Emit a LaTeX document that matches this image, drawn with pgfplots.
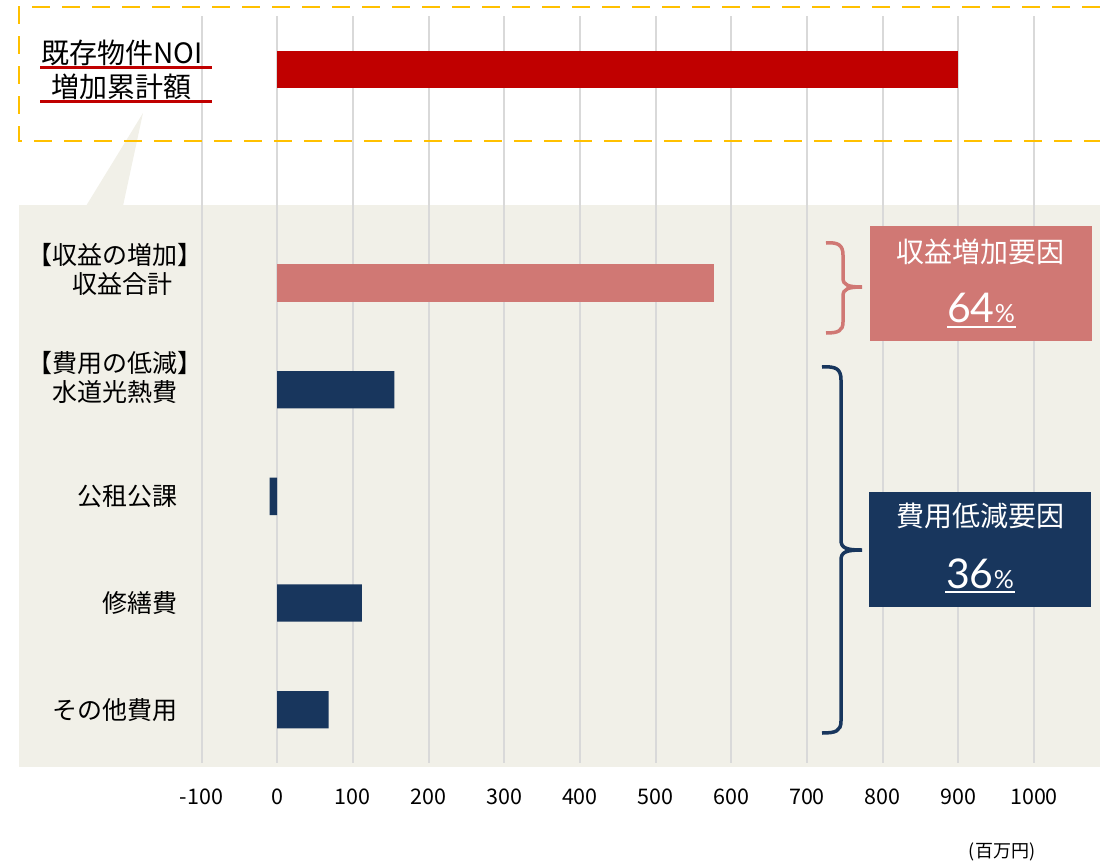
\documentclass[border=0pt]{standalone}
\usepackage{fontspec}
\setmainfont{Noto Sans CJK JP}
\newfontfamily\lato{Lato}
\usepackage{pgfplots}
\pgfplotsset{compat=1.18}
\definecolor{noi}{HTML}{C00000}
\definecolor{pinkc}{HTML}{D07874}
\definecolor{navy}{HTML}{18365D}
\definecolor{bg}{HTML}{F1F0E8}
\definecolor{yel}{HTML}{FFC000}
\definecolor{gridc}{HTML}{D9D9D9}
\begin{document}
\begin{tikzpicture}[x=1bp,y=-1bp]
\useasboundingbox (0,0) rectangle (1100,868);
\fill[bg] (19,205) rectangle (1100,767);
\fill[bg] (86,206) -- (143,113) -- (123,206) -- cycle;
\begin{axis}[at={(201.5bp,-763bp)}, anchor=south west, scale only axis,
  width=832.5bp, height=746.7bp,
  xmin=-100, xmax=1000, ymin=-0.5, ymax=6.5, y dir=reverse,
  axis line style={draw=none}, tick style={draw=none},
  xmajorgrids, grid style={draw=gridc, line width=2bp},
  xtick={-100,0,100,200,300,400,500,600,700,800,900,1000},
  xticklabels={-100,0,100,200,300,400,500,600,700,800,900,1000},
  xticklabel style={font=\fontsize{21.5bp}{25bp}\selectfont, anchor=center, yshift=-34bp},
  ytick={0,2,3,4,5,6},
  yticklabels={
    {\raisebox{-28bp}[0pt][0pt]{\fontsize{28bp}{33.6bp}\selectfont\begin{tabular}[b]{@{}c@{}}既存物件NOI\\増加累計額\end{tabular}}\kern-25bp},
    {\raisebox{-11bp}[0pt][0pt]{\fontsize{25bp}{30bp}\selectfont\begin{tabular}[b]{@{}c@{}}【収益の増加】\\[-1bp]\hspace{14bp}収益合計\end{tabular}}\kern-25bp},
    {\raisebox{-11.5bp}[0pt][0pt]{\fontsize{25bp}{30bp}\selectfont\begin{tabular}[b]{@{}c@{}}【費用の低減】\\[-1bp]水道光熱費\hspace{9bp}\end{tabular}}\kern-25bp},
    {{\fontsize{25bp}{30bp}\selectfont 公租公課}},
    {{\fontsize{25bp}{30bp}\selectfont 修繕費}},
    {{\fontsize{25bp}{30bp}\selectfont その他費用}}
  },
  yticklabel style={anchor=east, inner sep=0pt, xshift=-19.5bp},
  xbar, bar width=0.35]
\addplot[fill=noi, draw=none, bar shift=0pt] coordinates {(900,0)};
\addplot[fill=pinkc, draw=none, bar shift=0pt] coordinates {(577,2)};
\addplot[fill=navy, draw=none, bar shift=0pt] coordinates {(155,3) (-10,4) (112,5) (68,6)};
\end{axis}
\draw[yel, line width=2.8bp, dash pattern=on 18bp off 12bp] (1100,7) -- (19,7) -- (19,141) -- (1100,141);
\draw[noi, line width=3bp] (40,67) -- (212,67) (40,101) -- (212,101);
% right boxes
\fill[pinkc] (870,226) rectangle (1092,341);
\node[white, font=\fontsize{28bp}{32bp}\selectfont] at (980,252) {収益増加要因};
\node[white, font=\lato] at (981,308) {\fontsize{41bp}{45bp}\selectfont 64\fontsize{25bp}{28bp}\selectfont\%};
\draw[white, line width=2bp] (947,327) -- (1016,327);
\fill[navy] (869,492) rectangle (1091,607);
\node[white, font=\fontsize{28bp}{32bp}\selectfont] at (980,516) {費用低減要因};
\node[white, font=\lato] at (980,574) {\fontsize{41bp}{45bp}\selectfont 36\fontsize{25bp}{28bp}\selectfont\%};
\draw[white, line width=2bp] (945,592) -- (1015,592);
% braces
\draw[pinkc, line width=3.5bp] (826,243) .. controls (838,242) and (843,245) .. (843,255) -- (843,278) .. controls (843,285) and (848,287) .. (862,287)
  .. controls (848,287) and (843,289) .. (843,296) -- (843,322) .. controls (843,331) and (838,333) .. (826,333);
\draw[navy, line width=3.5bp] (822,367) .. controls (836,366) and (841,369) .. (841,380) -- (841,540) .. controls (841,548) and (846,550) .. (862,550)
  .. controls (846,550) and (841,552) .. (841,560) -- (841,721) .. controls (841,731) and (836,733) .. (822,733);
\node[font=\fontsize{18bp}{20bp}\selectfont] at (1002,852) {(百万円)};
\end{tikzpicture}
\end{document}
